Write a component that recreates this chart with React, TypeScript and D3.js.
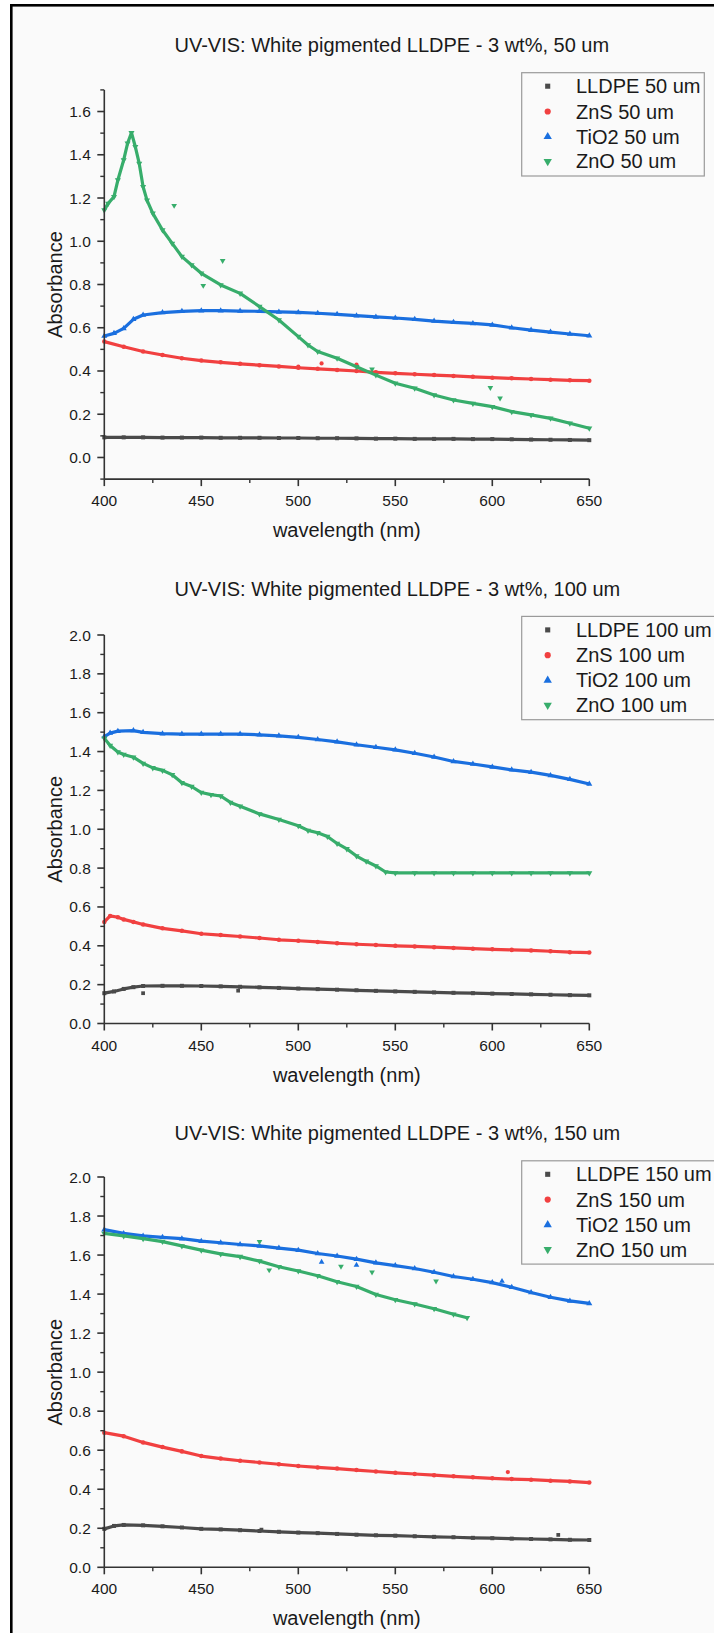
import React from 'react';
import * as d3 from 'd3';

const W = 714;
const H = 1633;
const FONT = '"Liberation Sans", Arial, Helvetica, sans-serif';

const seriesNames = ['LLDPE', 'ZnS', 'TiO2', 'ZnO'];
const seriesColors = ['#4a4a4a', '#F14040', '#1A6FDF', '#37AD6B'];
const xTicks = [400, 450, 500, 550, 600, 650];
const xMinorTicks = [425, 475, 525, 575, 625];
const yTicks50 = [0, 0.2, 0.4, 0.6, 0.8, 1.0, 1.2, 1.4, 1.6];
const yTicksThick = [0, 0.2, 0.4, 0.6, 0.8, 1.0, 1.2, 1.4, 1.6, 1.8, 2.0];

// ---------- 50 um ----------
const lldpe50X = [400, 410, 420, 430, 440, 450, 460, 470, 480, 490, 500, 510, 520, 530, 540, 550, 560, 570, 580, 590, 600, 610, 620, 630, 640, 650];
const lldpe50Y = [0.093, 0.093, 0.093, 0.092, 0.092, 0.092, 0.091, 0.091, 0.091, 0.090, 0.090, 0.089, 0.089, 0.088, 0.087, 0.087, 0.086, 0.086, 0.086, 0.085, 0.085, 0.084, 0.083, 0.082, 0.081, 0.080];
const zns50X = [400, 410, 420, 430, 440, 450, 460, 470, 480, 490, 500, 510, 520, 530, 540, 550, 560, 570, 580, 590, 600, 610, 620, 630, 640, 650];
const zns50Y = [0.536, 0.512, 0.490, 0.474, 0.459, 0.448, 0.440, 0.433, 0.427, 0.421, 0.415, 0.410, 0.405, 0.400, 0.394, 0.389, 0.385, 0.381, 0.377, 0.373, 0.369, 0.366, 0.363, 0.360, 0.357, 0.355];
const tio250X = [400, 405, 410, 415, 420, 430, 440, 450, 460, 470, 480, 490, 500, 510, 520, 530, 540, 550, 560, 570, 580, 590, 600, 610, 620, 630, 640, 650];
const tio250Y = [0.562, 0.574, 0.597, 0.639, 0.659, 0.670, 0.676, 0.679, 0.679, 0.677, 0.676, 0.673, 0.671, 0.667, 0.662, 0.656, 0.650, 0.645, 0.639, 0.631, 0.625, 0.620, 0.613, 0.600, 0.589, 0.580, 0.571, 0.563];
const zno50X = [400, 402, 405, 407, 410, 412, 414, 416, 418, 420, 422, 425, 430, 435, 440, 445, 450, 460, 470, 480, 490, 500, 505, 510, 520, 530, 540, 550, 560, 570, 580, 590, 600, 610, 620, 630, 640, 650];
const zno50Y = [1.144, 1.175, 1.206, 1.283, 1.376, 1.453, 1.502, 1.437, 1.360, 1.252, 1.190, 1.129, 1.052, 0.990, 0.929, 0.890, 0.852, 0.798, 0.759, 0.698, 0.636, 0.559, 0.520, 0.490, 0.459, 0.420, 0.381, 0.343, 0.320, 0.289, 0.266, 0.250, 0.235, 0.212, 0.197, 0.181, 0.158, 0.135];
const zns50OutX = [500, 512, 530];
const zns50OutY = [0.420, 0.435, 0.430];
const zno50OutX = [436, 451, 461, 538, 599, 604];
const zno50OutY = [1.165, 0.795, 0.910, 0.408, 0.323, 0.274];

// ---------- 100 um ----------
const lldpe100X = [400, 405, 410, 415, 420, 430, 440, 450, 460, 470, 480, 490, 500, 510, 520, 530, 540, 550, 560, 570, 580, 590, 600, 610, 620, 630, 640, 650];
const lldpe100Y = [0.156, 0.165, 0.178, 0.187, 0.193, 0.194, 0.194, 0.193, 0.191, 0.189, 0.186, 0.183, 0.180, 0.177, 0.174, 0.171, 0.168, 0.165, 0.163, 0.160, 0.158, 0.156, 0.154, 0.152, 0.150, 0.148, 0.146, 0.145];
const zns100X = [400, 403, 407, 410, 415, 420, 430, 440, 450, 460, 470, 480, 490, 500, 510, 520, 530, 540, 550, 560, 570, 580, 590, 600, 610, 620, 630, 640, 650];
const zns100Y = [0.523, 0.554, 0.547, 0.536, 0.523, 0.510, 0.490, 0.477, 0.462, 0.455, 0.448, 0.440, 0.431, 0.426, 0.420, 0.413, 0.408, 0.404, 0.400, 0.397, 0.393, 0.389, 0.385, 0.382, 0.379, 0.376, 0.372, 0.367, 0.365];
const tio2100X = [400, 403, 407, 415, 420, 430, 440, 450, 460, 470, 480, 490, 500, 510, 520, 530, 540, 550, 560, 570, 580, 590, 600, 610, 620, 630, 640, 650];
const tio2100Y = [1.477, 1.495, 1.505, 1.508, 1.499, 1.492, 1.490, 1.490, 1.490, 1.490, 1.486, 1.481, 1.473, 1.462, 1.450, 1.435, 1.422, 1.409, 1.391, 1.372, 1.349, 1.336, 1.321, 1.306, 1.294, 1.277, 1.257, 1.233];
const zno100X = [400, 403, 407, 410, 415, 420, 425, 430, 435, 440, 445, 450, 455, 460, 465, 470, 480, 490, 500, 505, 510, 515, 520, 525, 530, 535, 540, 545, 550, 560, 570, 580, 590, 600, 610, 620, 630, 640, 650];
const zno100Y = [1.468, 1.431, 1.398, 1.385, 1.371, 1.339, 1.316, 1.303, 1.281, 1.239, 1.220, 1.189, 1.178, 1.171, 1.138, 1.119, 1.079, 1.050, 1.018, 0.994, 0.982, 0.963, 0.927, 0.899, 0.862, 0.835, 0.811, 0.780, 0.775, 0.775, 0.775, 0.775, 0.775, 0.775, 0.775, 0.775, 0.775, 0.775, 0.775];
const lldpe100OutX = [420, 469];
const lldpe100OutY = [0.156, 0.169];

// ---------- 150 um ----------
const lldpe150X = [400, 405, 410, 420, 430, 440, 450, 460, 470, 480, 490, 500, 510, 520, 530, 540, 550, 560, 570, 580, 590, 600, 610, 620, 630, 640, 650];
const lldpe150Y = [0.197, 0.212, 0.217, 0.215, 0.210, 0.204, 0.197, 0.194, 0.190, 0.186, 0.182, 0.178, 0.175, 0.171, 0.167, 0.164, 0.162, 0.159, 0.156, 0.154, 0.151, 0.149, 0.147, 0.145, 0.143, 0.141, 0.140];
const zns150X = [400, 410, 420, 430, 440, 450, 460, 470, 480, 490, 500, 510, 520, 530, 540, 550, 560, 570, 580, 590, 600, 610, 620, 630, 640, 650];
const zns150Y = [0.690, 0.672, 0.640, 0.616, 0.594, 0.570, 0.557, 0.546, 0.537, 0.528, 0.519, 0.512, 0.506, 0.498, 0.491, 0.484, 0.478, 0.472, 0.466, 0.461, 0.456, 0.452, 0.449, 0.444, 0.440, 0.434];
const tio2150X = [400, 410, 420, 430, 440, 450, 460, 470, 480, 490, 500, 510, 520, 530, 540, 550, 560, 570, 580, 590, 600, 610, 620, 630, 640, 650];
const tio2150Y = [1.730, 1.711, 1.698, 1.691, 1.684, 1.671, 1.663, 1.654, 1.647, 1.636, 1.625, 1.608, 1.595, 1.579, 1.560, 1.546, 1.531, 1.512, 1.490, 1.476, 1.459, 1.435, 1.408, 1.384, 1.365, 1.352];
const zno150X = [400, 410, 420, 430, 440, 450, 460, 470, 480, 490, 500, 510, 520, 530, 540, 550, 560, 570, 580, 587];
const zno150Y = [1.711, 1.698, 1.684, 1.669, 1.647, 1.625, 1.606, 1.592, 1.569, 1.540, 1.518, 1.494, 1.463, 1.439, 1.398, 1.371, 1.349, 1.325, 1.297, 1.279];
const lldpe150OutX = [481, 634];
const lldpe150OutY = [0.193, 0.166];
const zns150OutX = [608];
const zns150OutY = [0.488];
const tio2150OutX = [512, 530, 605];
const tio2150OutY = [1.564, 1.549, 1.466];
const zno150OutX = [480, 485, 522, 538, 571];
const zno150OutY = [1.669, 1.523, 1.542, 1.512, 1.466];

type Series = { x: number[]; y: number[]; ox?: number[]; oy?: number[] };

const panels = [
  {
    thick: '50',
    yDomain: [-0.1, 1.7],
    yTicks: yTicks50,
    top: 89.9,
    bottom: 479.1,
    titleY: 52,
    legendTop: 72.7,
    legendW: 182.6,
    series: [
      { x: lldpe50X, y: lldpe50Y },
      { x: zns50X, y: zns50Y, ox: zns50OutX, oy: zns50OutY },
      { x: tio250X, y: tio250Y },
      { x: zno50X, y: zno50Y, ox: zno50OutX, oy: zno50OutY },
    ] as Series[],
  },
  {
    thick: '100',
    yDomain: [0, 2.0],
    yTicks: yTicksThick,
    top: 635,
    bottom: 1023.5,
    titleY: 596,
    legendTop: 616.4,
    legendW: 196,
    series: [
      { x: lldpe100X, y: lldpe100Y, ox: lldpe100OutX, oy: lldpe100OutY },
      { x: zns100X, y: zns100Y },
      { x: tio2100X, y: tio2100Y },
      { x: zno100X, y: zno100Y },
    ] as Series[],
  },
  {
    thick: '150',
    yDomain: [0, 2.0],
    yTicks: yTicksThick,
    top: 1177,
    bottom: 1567.3,
    titleY: 1140,
    legendTop: 1160.8,
    legendW: 196,
    series: [
      { x: lldpe150X, y: lldpe150Y, ox: lldpe150OutX, oy: lldpe150OutY },
      { x: zns150X, y: zns150Y, ox: zns150OutX, oy: zns150OutY },
      { x: tio2150X, y: tio2150Y, ox: tio2150OutX, oy: tio2150OutY },
      { x: zno150X, y: zno150Y, ox: zno150OutX, oy: zno150OutY },
    ] as Series[],
  },
];

const X0 = 104.3;
const X1 = 589.3;
const AXIS = '#333333';

function symbolPath(i: number, size: number) {
  const types = [d3.symbolSquare, d3.symbolCircle, d3.symbolTriangle, d3.symbolTriangle];
  return d3.symbol().type(types[i]).size(size)() as string;
}

function Marker({ i, x, y, size }: { i: number; x: number; y: number; size: number }) {
  const rot = i === 3 ? ' rotate(180)' : '';
  return <path d={symbolPath(i, size)} transform={`translate(${x},${y})${rot}`} fill={seriesColors[i]} />;
}

function Panel({ p }: { p: (typeof panels)[number] }) {
  const xs = d3.scaleLinear().domain([400, 650]).range([X0, X1]);
  const ys = d3.scaleLinear().domain(p.yDomain).range([p.bottom, p.top]);
  const minorY = d3.range(Math.round(p.yDomain[0] * 10), Math.round(p.yDomain[1] * 10) + 1)
    .filter((k) => Math.abs(k % 2) === 1)
    .map((k) => k / 10);
  const line = d3.line<[number, number]>().x((d) => xs(d[0])).y((d) => ys(d[1]));
  const cy = (p.top + p.bottom) / 2;
  const lt = p.legendTop;
  const entryY = [13.5, 38.8, 64, 88.7];
  return (
    <g>
      <text x={174.5} y={p.titleY} fontSize={20} fill="#1a1a1a" fontFamily={FONT}>
        {`UV-VIS: White pigmented LLDPE - 3 wt%, ${p.thick} um`}
      </text>
      {/* data */}
      {p.series.map((s, i) => {
        const pts = s.x.map((x, k) => [x, s.y[k]] as [number, number]);
        return (
          <g key={i}>
            <path d={line(pts) as string} fill="none" stroke={seriesColors[i]} strokeWidth={3.2} strokeLinejoin="round" />
            {pts.map((d, k) => (
              <Marker key={k} i={i} x={xs(d[0])} y={ys(d[1])} size={16} />
            ))}
            {(s.ox || []).map((x, k) => (
              <Marker key={'o' + k} i={i} x={xs(x)} y={ys((s.oy as number[])[k])} size={14} />
            ))}
          </g>
        );
      })}
      {/* axes */}
      <line x1={X0} x2={X0} y1={p.top} y2={p.bottom} stroke={AXIS} strokeWidth={1.6} />
      <line x1={X0} x2={X1} y1={p.bottom} y2={p.bottom} stroke={AXIS} strokeWidth={1.6} />
      {p.yTicks.map((t) => (
        <g key={t}>
          <line x1={X0 - 7} x2={X0} y1={ys(t)} y2={ys(t)} stroke={AXIS} strokeWidth={1.6} />
          <text x={X0 - 13.5} y={ys(t) + 5.5} textAnchor="end" fontSize={15.5} fill="#1a1a1a" fontFamily={FONT}>
            {t.toFixed(1)}
          </text>
        </g>
      ))}
      {minorY.map((t) => (
        <line key={t} x1={X0 - 4} x2={X0} y1={ys(t)} y2={ys(t)} stroke={AXIS} strokeWidth={1.4} />
      ))}
      {xTicks.map((t) => (
        <g key={t}>
          <line x1={xs(t)} x2={xs(t)} y1={p.bottom} y2={p.bottom + 7} stroke={AXIS} strokeWidth={1.6} />
          <text x={xs(t)} y={p.bottom + 27} textAnchor="middle" fontSize={15.5} fill="#1a1a1a" fontFamily={FONT}>
            {t}
          </text>
        </g>
      ))}
      {xMinorTicks.map((t) => (
        <line key={t} x1={xs(t)} x2={xs(t)} y1={p.bottom} y2={p.bottom + 4} stroke={AXIS} strokeWidth={1.4} />
      ))}
      <text x={(X0 + X1) / 2} y={p.bottom + 58} textAnchor="middle" fontSize={20} fill="#1a1a1a" fontFamily={FONT}>
        wavelength (nm)
      </text>
      <text transform={`translate(61.5,${cy}) rotate(-90)`} textAnchor="middle" fontSize={20} fill="#1a1a1a" fontFamily={FONT}>
        Absorbance
      </text>
      {/* legend */}
      <rect x={521.7} y={lt} width={p.legendW} height={103.3} fill="#fafafa" stroke="#9a9a9a" strokeWidth={1.2} />
      {seriesNames.map((n, i) => (
        <g key={n}>
          <Marker i={i} x={547.7} y={lt + entryY[i]} size={i === 0 ? 26 : 30} />
          <text x={576} y={lt + entryY[i] + 7} fontSize={20} fill="#1a1a1a" fontFamily={FONT}>
            {`${n} ${p.thick} um`}
          </text>
        </g>
      ))}
    </g>
  );
}

export default function App() {
  return (
    <svg width={W} height={H} viewBox={`0 0 ${W} ${H}`} style={{ position: 'absolute', left: 0, top: 0, display: 'block' }}>
      <rect x={0} y={0} width={W} height={H} fill="#ffffff" />
      <rect x={11.3} y={5.3} width={W + 20} height={H + 20} fill="#fafafa" stroke="#000" strokeWidth={2.6} />
      {panels.map((p) => (
        <Panel key={p.thick} p={p} />
      ))}
    </svg>
  );
}
